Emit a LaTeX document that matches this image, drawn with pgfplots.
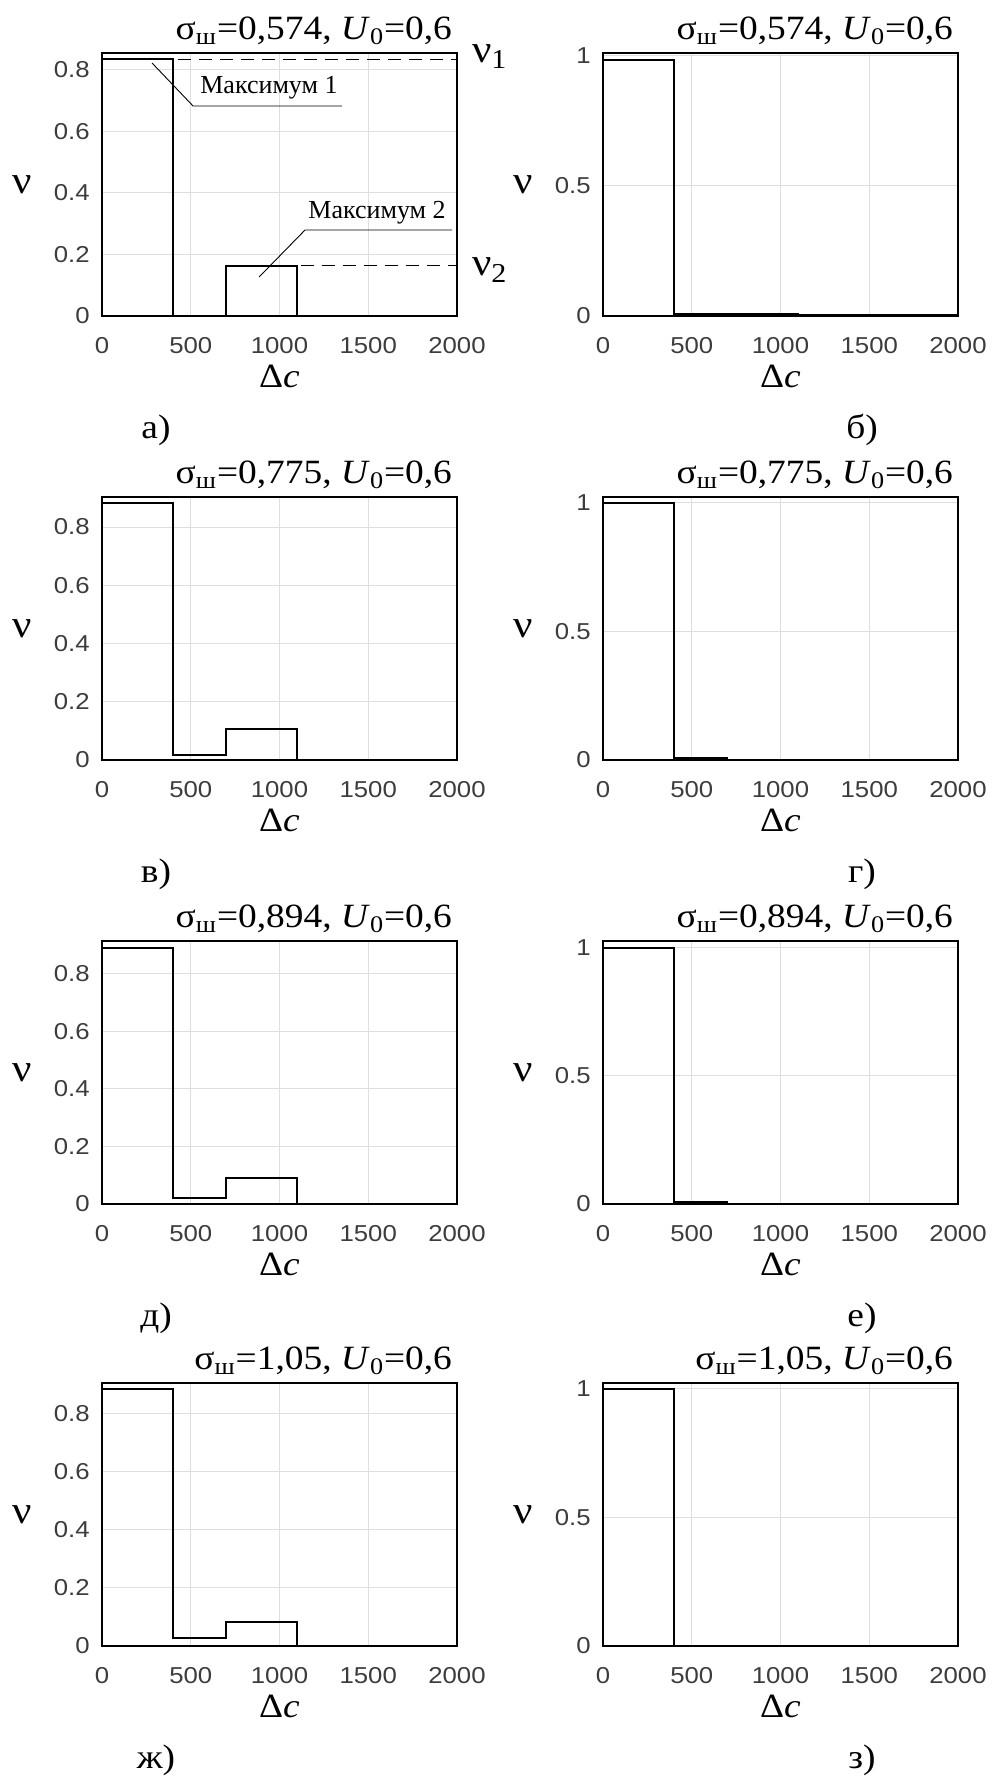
\documentclass[border=0pt]{standalone}
\usepackage{fontspec}
\setmainfont{Liberation Serif}[FakeStretch=1.10]
\newfontfamily\tickfont{Liberation Sans}[FakeStretch=1.12]
\newfontfamily\annfont{Liberation Serif}
\usepackage{pgfplots}
\pgfplotsset{compat=1.18}
\definecolor{tickgray}{RGB}{60,60,60}
\definecolor{gridgray}{RGB}{222,222,222}

\newcommand{\titlefnt}{\fontsize{17pt}{20pt}\selectfont}
\newcommand{\nufnt}{\fontsize{19.5pt}{22pt}\selectfont}

\pgfplotsset{
  panel/.style={
    scale only axis, width=177.5pt, height=131.5pt,
    xmin=0, xmax=2000, ymin=0,
    xtick={0,500,1000,1500,2000},
    grid=major, major grid style={draw=gridgray, line width=0.5pt},
    major tick length=0pt,
    axis line style={line width=0.65pt, black},
    tick label style={font=\tickfont\fontsize{11.5pt}{13pt}\selectfont, text=tickgray, inner sep=0pt},
    xticklabel style={yshift=-10.5pt},
    yticklabel style={xshift=-6pt},
    /pgf/number format/assume math mode=true,
    /pgf/number format/1000 sep={},
    clip=false,
    anchor=north west,
  },
  leftp/.style={panel, ymax=#1, ytick={0,0.2,0.4,0.6,0.8}},
  rightp/.style={panel, ymax=#1, ytick={0,0.5,1}},
  stepl/.style={black, line width=1pt, mark=none},
}

\newcommand{\decor}[3]{%
  \node[anchor=base east, font=\titlefnt, xshift=1pt, yshift=7pt] at (rel axis cs:1,1)
    {σ\textsubscript{ш}=#1, \textit{U}\textsubscript{0}=0,6};
  \node[font=\nufnt, xshift=-40pt] at (rel axis cs:0,0.5) {ν};
  \node[anchor=base, font=\titlefnt, inner sep=0pt, yshift=-35.5pt] at (rel axis cs:0.5,0) {Δ\textit{c}};
  \node[anchor=base, font=\titlefnt, xshift=#3, yshift=-61pt] at (rel axis cs:0,0) {#2};
}

\begin{document}
\begin{tikzpicture}
\useasboundingbox (0,0) rectangle (495.5pt,-889pt);

% а)
\begin{axis}[leftp=0.854, at={(51pt,-26.5pt)}]
\addplot[stepl] coordinates {(0,0) (0,0.833) (400,0.833) (400,0) (700,0) (700,0.163) (1100,0.163) (1100,0) (2000,0)};
\draw[black, line width=0.5pt, dash pattern=on 6.5pt off 4pt] (axis cs:430,0.833) -- (axis cs:2000,0.833);
\draw[black, line width=0.5pt, dash pattern=on 6.5pt off 4pt] (axis cs:1120,0.163) -- (axis cs:2000,0.163);
\node[anchor=base west, font=\nufnt, xshift=4pt, yshift=-1.5pt] at (axis cs:2000,0.833) {ν\textsubscript{1}};
\node[anchor=base west, font=\nufnt, xshift=4pt, yshift=-5pt] at (axis cs:2000,0.163) {ν\textsubscript{2}};
\draw[black, line width=0.45pt] (axis cs:282,0.8215) -- (axis cs:513,0.6819) -- (axis cs:1352,0.6819);
\node[anchor=base west, inner sep=0pt, font=\annfont\fontsize{13pt}{15pt}\selectfont] at (axis cs:552,0.7209) {Максимум 1};
\draw[black, line width=0.45pt] (axis cs:885,0.1266) -- (axis cs:1144,0.2793) -- (axis cs:1972,0.2793);
\node[anchor=base west, inner sep=0pt, font=\annfont\fontsize{13pt}{15pt}\selectfont] at (axis cs:1161,0.3182) {Максимум 2};
\decor{0,574}{а)}{27pt}
\end{axis}

% б)
\begin{axis}[rightp=1.008, at={(301.5pt,-26.5pt)}]
\addplot[stepl] coordinates {(0,0) (0,0.981) (400,0.981) (400,0.008) (1100,0.008) (1100,0.002) (2000,0.002)};
\decor{0,574}{б)}{129.5pt}
\end{axis}

% в)
\begin{axis}[leftp=0.903, at={(51pt,-248.5pt)}]
\addplot[stepl] coordinates {(0,0) (0,0.883) (400,0.883) (400,0.016) (700,0.016) (700,0.105) (1100,0.105) (1100,0) (2000,0)};
\decor{0,775}{в)}{27pt}
\end{axis}

% г)
\begin{axis}[rightp=1.023, at={(301.5pt,-248.5pt)}]
\addplot[stepl] coordinates {(0,0) (0,0.998) (400,0.998) (400,0.008) (700,0.008) (700,0) (2000,0)};
\decor{0,775}{г)}{129.5pt}
\end{axis}

% д)
\begin{axis}[leftp=0.914, at={(51pt,-470.5pt)}]
\addplot[stepl] coordinates {(0,0) (0,0.891) (400,0.891) (400,0.021) (700,0.021) (700,0.092) (1100,0.092) (1100,0) (2000,0)};
\decor{0,894}{д)}{27pt}
\end{axis}

% е)
\begin{axis}[rightp=1.025, at={(301.5pt,-470.5pt)}]
\addplot[stepl] coordinates {(0,0) (0,0.999) (400,0.999) (400,0.008) (700,0.008) (700,0) (2000,0)};
\decor{0,894}{е)}{129.5pt}
\end{axis}

% ж)
\begin{axis}[leftp=0.906, at={(51pt,-691.5pt)}]
\addplot[stepl] coordinates {(0,0) (0,0.885) (400,0.885) (400,0.028) (700,0.028) (700,0.083) (1100,0.083) (1100,0) (2000,0)};
\decor{1,05}{ж)}{27pt}
\end{axis}

% з)
\begin{axis}[rightp=1.022, at={(301.5pt,-691.5pt)}]
\addplot[stepl] coordinates {(0,0) (0,0.998) (400,0.998) (400,0) (2000,0)};
\decor{1,05}{з)}{129.5pt}
\end{axis}

\end{tikzpicture}
\end{document}
